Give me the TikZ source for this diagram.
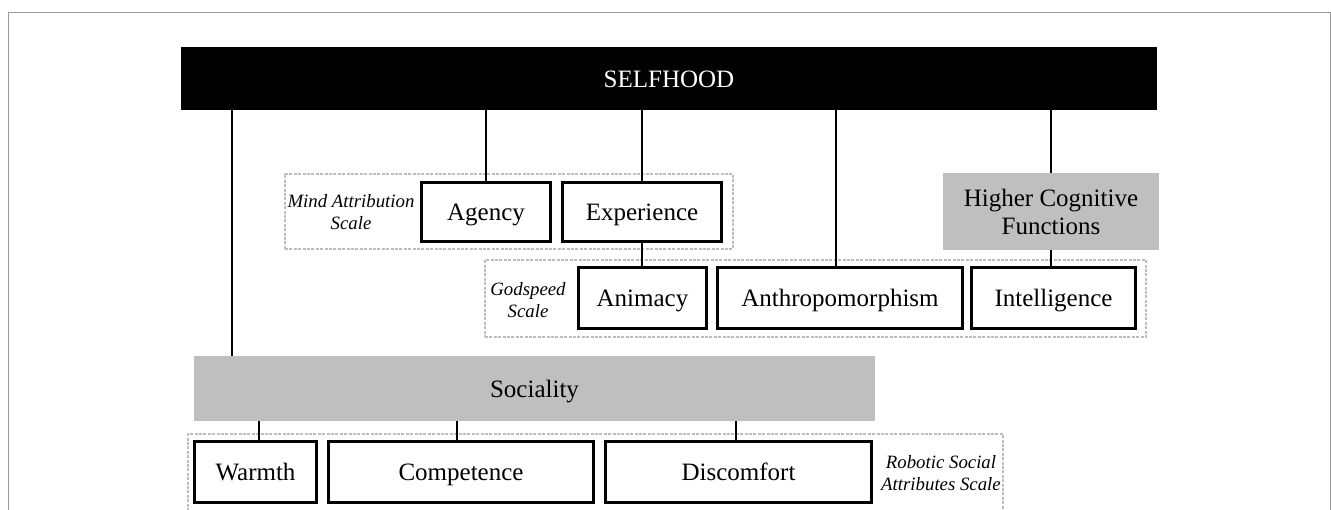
\documentclass[tikz,border=0pt]{standalone}
\usepackage{fontspec}
\setmainfont{Liberation Serif}
\definecolor{boxgray}{HTML}{BFBFBF}
\definecolor{dotgray}{HTML}{BDBDBD}
\begin{document}
\begin{tikzpicture}[x=0.5pt,y=-0.5pt,
  scalebox/.style={draw, line width=1.6pt, fill=white, inner sep=0pt, text height=8.5pt, text depth=0pt, font=\fontsize{12.5}{14}\selectfont},
  groupbox/.style={fill=boxgray, inner sep=0pt, align=center, font=\fontsize{12.5}{14}\selectfont},
  scaleframe/.style={draw=dotgray, line width=1pt, dash pattern=on 1.5pt off 0.7pt, inner sep=0pt},
  scalename/.style={align=center, font=\fontsize{9.4}{11}\selectfont\itshape},
  link/.style={line width=1.1pt}]
\useasboundingbox (0,0) rectangle (1331,509);
\draw[gray!80, line width=0.5pt] (8,12) rectangle (1330,700);

% dotted frames of the scales
\node(MindFrame)[scaleframe, minimum width=224pt, minimum height=37.5pt] at (509,211.5) {};
\node(GodFrame)[scaleframe, minimum width=330.5pt, minimum height=38.5pt] at (815.5,298.5) {};
\node(RobFrame)[scaleframe, minimum width=407.5pt, minimum height=50pt] at (595.5,484) {};

\node(MindLbl)[scalename] at (351,212) {Mind Attribution\\Scale};
\node(GodLbl)[scalename] at (528,300) {Godspeed\\Scale};
\node(RobLbl)[scalename] at (941,473) {Robotic Social\\Attributes Scale};

% top
\node(Self)[fill=black, text=white, inner sep=0pt, minimum width=488pt, minimum height=31.5pt, text height=8.5pt, text depth=0pt, font=\fontsize{12.5}{14}\selectfont] at (669,78.5) {SELFHOOD};

% mind attribution
\node(Agency)[scalebox, minimum width=64.4pt, minimum height=29.4pt] at (486,212) {Agency};
\node(Exp)[scalebox, minimum width=79.4pt, minimum height=29.4pt] at (642,212) {Experience};
\node(HCF)[groupbox, minimum width=108pt, minimum height=38.5pt] at (1051,211.5) {Higher Cognitive\\Functions};

% godspeed
\node(Ani)[scalebox, minimum width=63.9pt, minimum height=30.4pt] at (642.5,298) {Animacy};
\node(Anth)[scalebox, minimum width=122.4pt, minimum height=30.4pt] at (840,298) {Anthropomorphism};
\node(Int)[scalebox, minimum width=81.9pt, minimum height=30.4pt] at (1053.5,298) {Intelligence};

% sociality
\node(Soc)[groupbox, minimum width=340.5pt, minimum height=32.5pt, text height=8.5pt, text depth=0pt] at (534.5,388.5) {Sociality};
\node(Warm)[scalebox, minimum width=60.9pt, minimum height=30.4pt] at (255.5,472) {Warmth};
\node(Comp)[scalebox, minimum width=132.4pt, minimum height=30.4pt] at (461,472) {Competence};
\node(Disc)[scalebox, minimum width=132.9pt, minimum height=30.4pt] at (738.5,472) {Discomfort};

% connectors
\draw[link] ([xshift=19pt]Soc.north west) coordinate(SocTop) -- (SocTop |- Self.south);
\draw[link] (Agency.north) -- (Agency.north |- Self.south);
\draw[link] (Exp.north) -- (Exp.north |- Self.south);
\draw[link] ([xshift=-2pt]Anth.north) coordinate(AnthTop) -- (AnthTop |- Self.south);
\draw[link] (HCF.north) -- (HCF.north |- Self.south);
\draw[link] (Exp.south) -- (Exp.south |- Ani.north);
\draw[link] (HCF.south) -- (HCF.south |- Int.north);
\draw[link] ([xshift=1.75pt]Warm.north) coordinate(WarmTop) -- (WarmTop |- Soc.south);
\draw[link] ([xshift=-2pt]Comp.north) coordinate(CompTop) -- (CompTop |- Soc.south);
\draw[link] ([xshift=-1.25pt]Disc.north) coordinate(DiscTop) -- (DiscTop |- Soc.south);
\end{tikzpicture}
\end{document}
